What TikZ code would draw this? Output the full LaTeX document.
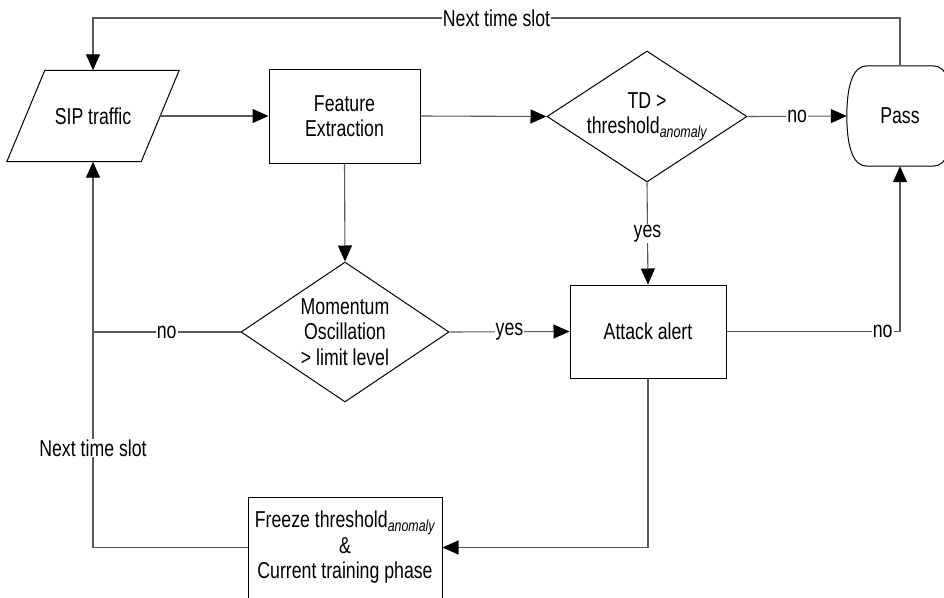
\documentclass[tikz,border=0pt]{standalone}
\usepackage{fontspec}
\setmainfont{Liberation Sans}[FakeStretch=0.77]
\usetikzlibrary{arrows.meta,shapes.geometric,calc}

\begin{document}
\begin{tikzpicture}[x=1pt,y=-1pt,
  every node/.style={font=\fontsize{23}{25.5}\selectfont, align=center, inner sep=0pt},
  outline/.style={draw=black, line width=1pt},
  box/.style={outline, rectangle},
  decision/.style={outline, diamond},
  conn/.style={draw=black!65, line width=1.1pt},
  arr/.style={conn, -{Triangle[length=16pt,width=14pt,color=black]}},
  lab/.style={fill=white, inner sep=1pt}]

\useasboundingbox (0,0) rectangle (944,597);

% input: SIP traffic (parallelogram drawn around a plain node)
\node[minimum width=134pt, minimum height=91pt] (sip) at (93,116) {SIP traffic};
\draw[outline] ($(sip.north west)+(19,0)$) -- ($(sip.north east)+(19,0)$)
  -- ($(sip.south east)+(-19,0)$) -- ($(sip.south west)+(-19,0)$) -- cycle;

% processing steps
\node[box, minimum width=151pt, minimum height=94pt] (feat) at (344.5,116) {Feature\\Extraction};
\node[box, minimum width=156pt, minimum height=93pt] (att) at (648,331.5) {Attack alert};
\node[box, minimum width=194pt, minimum height=101pt] (fr) at (345,547.5)
  {Freeze threshold\textsubscript{\itshape anomaly}\\\&\\Current training phase};

% decisions
\node[decision, aspect=1.53, minimum width=200pt, minimum height=131pt] (td) at (647,116.5)
  {TD >\\threshold\textsubscript{\itshape anomaly}};
\node[decision, aspect=1.49, minimum width=208pt, minimum height=140pt] (mom) at (345,332)
  {Momentum\\Oscillation\\> limit level};

% terminal: Pass (rounded sides drawn around a plain node)
\node[minimum width=106pt, minimum height=100pt] (pass) at (900,116) {Pass};
\draw[outline] ($(pass.north west)+(20,0)$) -- ($(pass.north east)+(-20,0)$)
  .. controls +(14,0) and +(0,-30) .. (pass.east)
  .. controls +(0,30) and +(14,0) .. ($(pass.south east)+(-20,0)$)
  -- ($(pass.south west)+(20,0)$)
  .. controls +(-14,0) and +(0,30) .. (pass.west)
  .. controls +(0,-30) and +(-14,0) .. cycle;

% connectors
\coordinate (top) at (0,18);
\draw[arr] (sip.east) -- (feat.west);
\draw[arr] (feat.east) -- (td.west);
\draw[arr] (td.east) -- node[lab]{no} (pass.west);
\draw[arr] (td.south) -- node[lab]{yes} (att.north);
\draw[arr] (feat.south) -- (mom.north);
\draw[arr] (mom.east) -- node[lab]{yes} (att.west);
\draw[arr] (att.east) -- node[lab, pos=0.9]{no} (att.east -| pass.south) -- (pass.south);
\draw[conn] (mom.west) -- node[lab]{no} (mom.west -| sip.south);
\draw[arr] (att.south) |- (fr.east);
\draw[arr] (fr.west) -- (fr.west -| sip.south)
  -- node[lab, pos=0.258]{Next time slot} (sip.south);
\draw[arr] (pass.north) -- (pass.north |- top)
  -- node[lab]{Next time slot} (sip.north |- top) -- (sip.north);

\end{tikzpicture}
\end{document}
